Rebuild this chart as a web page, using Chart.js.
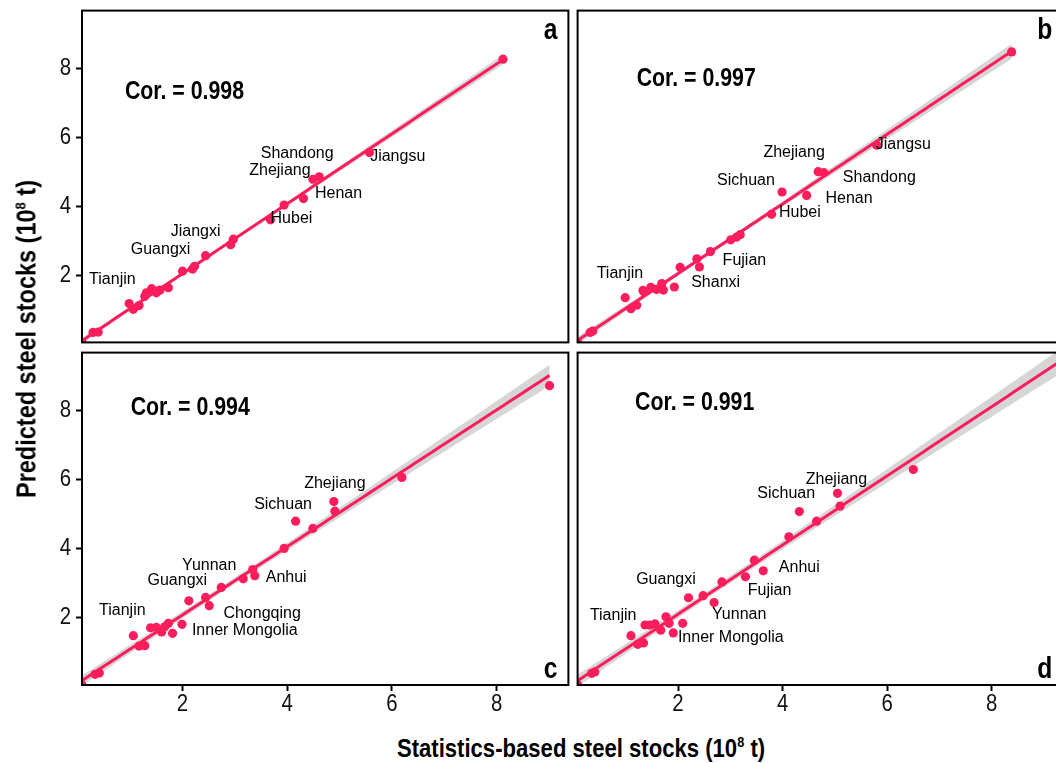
<!DOCTYPE html>
<html>
<head>
<meta charset="utf-8">
<script src="https://cdn.jsdelivr.net/npm/chart.js@4.4.1/dist/chart.umd.min.js"></script>
<style>
  html, body { margin: 0; padding: 0; width: 1056px; height: 763px; overflow: hidden; background: #fff; }
  .panel { position: absolute; }
  .ttl {
    position: absolute; white-space: nowrap; color: #000;
    font-family: 'Liberation Sans', Arial, sans-serif;
    font-weight: bold;
  }
  .ttl sup { font-size: 15px; }
  #xtitle { font-size: 26px; transform: translate(-50%, -50%) scaleX(0.85); }
  #ytitle { font-size: 27px; transform: translate(-50%, -50%) rotate(-90deg) scaleX(0.87); }
</style>
</head>
<body>
<div class="panel" style="left:0;top:6px"><canvas id="pa" width="573" height="341"></canvas></div>
<div class="panel" style="left:573px;top:6px"><canvas id="pb" width="495" height="341"></canvas></div>
<div class="panel" style="left:0;top:348px"><canvas id="pc" width="573" height="377"></canvas></div>
<div class="panel" style="left:573px;top:348px"><canvas id="pd" width="495" height="377"></canvas></div>
<div class="ttl" id="ytitle" style="left:27px;top:339px">Predicted steel stocks (10<sup>8</sup> t)</div>
<div class="ttl" id="xtitle" style="left:581px;top:748px">Statistics-based steel stocks (10<sup>8</sup> t)</div>

<script>
// ---- data (10^8 t) ----
const tickVals = [2, 4, 6, 8];
const xRange = [0.08, 9.37];
const yRange = [0.05, 9.69];

const statA = [0.08, 0.29, 0.39, 0.98, 1.06, 1.17, 1.28, 1.31, 1.41, 1.50, 1.57, 1.52, 1.73, 2.00, 2.19, 2.23, 2.44, 2.92, 2.97, 3.68, 3.94, 4.31, 4.49, 4.61, 5.57, 8.12];
const predA = [0.05, 0.34, 0.35, 1.18, 1.01, 1.12, 1.39, 1.49, 1.61, 1.49, 1.57, 1.54, 1.64, 2.12, 2.18, 2.26, 2.57, 2.89, 3.05, 3.61, 4.04, 4.23, 4.79, 4.86, 5.57, 8.28];

const statB = [0.08, 0.32, 0.37, 0.99, 1.10, 1.21, 1.33, 1.35, 1.48, 1.59, 1.69, 1.72, 1.93, 2.04, 2.36, 2.41, 2.62, 3.01, 3.12, 3.19, 3.79, 3.99, 4.46, 4.68, 4.79, 5.80, 8.38];
const predB = [0.05, 0.34, 0.38, 1.35, 1.03, 1.13, 1.56, 1.52, 1.65, 1.59, 1.76, 1.57, 1.66, 2.23, 2.48, 2.24, 2.69, 3.03, 3.11, 3.18, 3.77, 4.42, 4.32, 5.01, 4.98, 5.78, 8.49];

const statC = [0.08, 0.33, 0.41, 1.06, 1.17, 1.28, 1.39, 1.50, 1.60, 1.66, 1.73, 1.81, 1.99, 2.12, 2.44, 2.51, 2.74, 3.16, 3.34, 3.38, 3.94, 4.16, 4.49, 4.89, 4.91, 6.19, 9.01];
const predC = [0.05, 0.36, 0.40, 1.48, 1.18, 1.19, 1.71, 1.72, 1.59, 1.74, 1.84, 1.55, 1.81, 2.49, 2.59, 2.35, 2.88, 3.13, 3.40, 3.22, 4.01, 4.80, 4.59, 5.37, 5.09, 6.07, 8.73];

const statD = [0.08, 0.35, 0.41, 1.10, 1.23, 1.34, 1.37, 1.46, 1.56, 1.67, 1.77, 1.83, 1.91, 2.09, 2.20, 2.48, 2.69, 2.84, 3.29, 3.46, 3.63, 4.12, 4.32, 4.65, 5.05, 5.10, 6.50, 9.37];
const predD = [0.05, 0.39, 0.43, 1.48, 1.23, 1.27, 1.79, 1.79, 1.82, 1.64, 2.03, 1.84, 1.56, 1.84, 2.58, 2.64, 2.44, 3.04, 3.19, 3.67, 3.36, 4.35, 5.08, 4.80, 5.61, 5.24, 6.30, 9.35];

const corText = ['0.998', '0.997', '0.994', '0.991'];
const panelLetters = ['a', 'b', 'c', 'd'];

// province labels: [name, x, y] in data units
const labelsA = [['Tianjin', 0.66, 1.88], ['Guangxi', 1.58, 2.74], ['Jiangxi', 2.25, 3.27], ['Hubei', 4.08, 3.64],
  ['Henan', 4.98, 4.36], ['Zhejiang', 3.86, 5.03], ['Shandong', 4.19, 5.54], ['Jiangsu', 6.11, 5.44]];
const labelsB = [['Tianjin', 0.89, 2.05], ['Shanxi', 2.72, 1.78], ['Fujian', 3.27, 2.43], ['Hubei', 4.33, 3.82],
  ['Henan', 5.27, 4.22], ['Sichuan', 3.30, 4.76], ['Zhejiang', 4.22, 5.57], ['Shandong', 5.85, 4.83], ['Jiangsu', 6.31, 5.81]];
const labelsC = [['Tianjin', 0.85, 2.20], ['Guangxi', 1.90, 3.07], ['Yunnan', 2.51, 3.52], ['Anhui', 3.98, 3.16],
  ['Chongqing', 3.52, 2.13], ['Inner Mongolia', 3.19, 1.62], ['Sichuan', 3.92, 5.29], ['Zhejiang', 4.91, 5.88]];
const labelsD = [['Tianjin', 0.76, 2.05], ['Guangxi', 1.77, 3.11], ['Inner Mongolia', 3.01, 1.42], ['Yunnan', 3.17, 2.08],
  ['Fujian', 3.75, 2.80], ['Anhui', 4.32, 3.45], ['Sichuan', 4.07, 5.61], ['Zhejiang', 5.03, 6.01]];

// "Cor. = ..." anchor (left, middle) in data units
const corAt = [[0.90, 7.32], [1.21, 7.72], [1.01, 8.08], [1.18, 8.22]];

// ---- styling ----
const PINK = '#fb1d5c';
const SANS = "'Liberation Sans', Arial, sans-serif";
const SQUEEZE = 0.82;   // the figure uses a condensed face

// linear fit with 95% confidence band, like geom_smooth(method = "lm")
function lmFit(xs, ys) {
  const n = xs.length;
  const mx = xs.reduce((s, v) => s + v, 0) / n;
  const my = ys.reduce((s, v) => s + v, 0) / n;
  let sxx = 0, sxy = 0;
  for (let i = 0; i < n; i++) { sxx += (xs[i] - mx) ** 2; sxy += (xs[i] - mx) * (ys[i] - my); }
  const b = sxy / sxx, a = my - b * mx;
  let sse = 0;
  for (let i = 0; i < n; i++) sse += (ys[i] - a - b * xs[i]) ** 2;
  const s = Math.sqrt(sse / (n - 2));
  const t = 2.05;
  const x0 = Math.min(...xs), x1 = Math.max(...xs);
  const line = [], lo = [], hi = [];
  for (let i = 0; i <= 80; i++) {
    const xv = x0 + (x1 - x0) * i / 80;
    const yv = a + b * xv;
    const se = s * Math.sqrt(1 / n + (xv - mx) ** 2 / sxx);
    line.push({ x: xv, y: yv });
    lo.push({ x: xv, y: yv - t * se });
    hi.push({ x: xv, y: yv + t * se });
  }
  return { line, lo, hi };
}

function narrowText(ctx, text, px, py, align, font, squeeze) {
  ctx.save();
  ctx.font = font;
  ctx.textAlign = align;
  ctx.textBaseline = 'middle';
  ctx.translate(px, py);
  ctx.scale(squeeze || SQUEEZE, 1);
  ctx.fillText(text, 0, 0);
  ctx.restore();
}

const panelDeco = {
  id: 'panelDeco',
  afterDraw(chart, args, o) {
    const { ctx, chartArea: ca } = chart;
    const x = chart.scales.x, y = chart.scales.y;
    ctx.save();
    ctx.fillStyle = '#000';
    ctx.textBaseline = 'middle';
    ctx.textAlign = 'center';
    ctx.font = '16px ' + SANS;
    o.labels.forEach(l => ctx.fillText(l[0], x.getPixelForValue(l[1]), y.getPixelForValue(l[2])));
    narrowText(ctx, 'Cor. = ' + o.cor, x.getPixelForValue(o.corAt[0]), y.getPixelForValue(o.corAt[1]), 'left', 'bold 26px ' + SANS);
    narrowText(ctx, o.letter, ca.right - 11, o.letterTop ? ca.top + 20 : ca.bottom - 15, 'right', 'bold 30px ' + SANS);
    // tick labels
    ctx.fillStyle = '#111';
    if (x.options.display) tickVals.forEach(v => narrowText(ctx, String(v), x.getPixelForValue(v), ca.bottom + 19, 'center', '24px ' + SANS, 0.85));
    if (y.options.display) tickVals.forEach(v => narrowText(ctx, String(v), ca.left - 11, y.getPixelForValue(v), 'right', '24px ' + SANS, 0.85));
    ctx.lineWidth = 2;
    ctx.strokeStyle = '#000';
    ctx.strokeRect(ca.left, ca.top, ca.right - ca.left, ca.bottom - ca.top);
    ctx.restore();
  }
};

function axis(range, show, isX) {
  return {
    type: 'linear',
    min: range[0], max: range[1],
    display: show,
    afterBuildTicks: s => { s.ticks = tickVals.map(v => ({ value: v })); },
    afterFit: s => {
      if (!s.options.display) return;
      if (isX) { s.height = 40; s.paddingLeft = 0; s.paddingRight = 0; }
      else { s.width = 82; s.paddingTop = 0; s.paddingBottom = 0; }
    },
    ticks: { display: false },
    grid: { drawOnChartArea: false, drawTicks: true, tickLength: 6, tickWidth: 2, tickColor: '#000' },
    border: { display: false }
  };
}

function makePanel(id, xs, ys, labels, k, showX, showY, padding) {
  const f = lmFit(xs, ys);
  const clear = 'rgba(0,0,0,0)';
  new Chart(document.getElementById(id), {
    type: 'scatter',
    data: {
      datasets: [
        // higher order = drawn further back
        { type: 'line', order: 4, data: f.lo, borderColor: clear, borderWidth: 1, pointRadius: 0, fill: false },
        { type: 'line', order: 3, data: f.hi, borderColor: clear, borderWidth: 1, pointRadius: 0, fill: '-1', backgroundColor: 'rgba(153,153,153,0.4)' },
        { order: 2, data: xs.map((v, i) => ({ x: v, y: ys[i] })), pointRadius: 4.6, pointBackgroundColor: PINK, pointBorderWidth: 0, borderColor: clear },
        { type: 'line', order: 1, data: f.line, borderColor: PINK, borderWidth: 3, pointRadius: 0, fill: false }
      ]
    },
    options: {
      responsive: false,
      animation: false,
      events: [],
      layout: { padding },
      plugins: {
        legend: { display: false },
        tooltip: { enabled: false },
        filler: { drawTime: 'beforeDatasetsDraw' },
        panelDeco: { labels, cor: corText[k], corAt: corAt[k], letter: panelLetters[k], letterTop: k < 2 }
      },
      scales: { x: axis(xRange, showX, true), y: axis(yRange, showY, false) }
    },
    plugins: [panelDeco]
  });
}

makePanel('pa', statA, predA, labelsA, 0, false, true, { top: 4, right: 4, bottom: 4, left: 0 });
makePanel('pb', statB, predB, labelsB, 1, false, false, { top: 4, right: 4, bottom: 4, left: 4 });
makePanel('pc', statC, predC, labelsC, 2, true, true, { top: 4, right: 4, bottom: 0, left: 0 });
makePanel('pd', statD, predD, labelsD, 3, true, false, { top: 4, right: 4, bottom: 0, left: 4 });
</script>
</body>
</html>
